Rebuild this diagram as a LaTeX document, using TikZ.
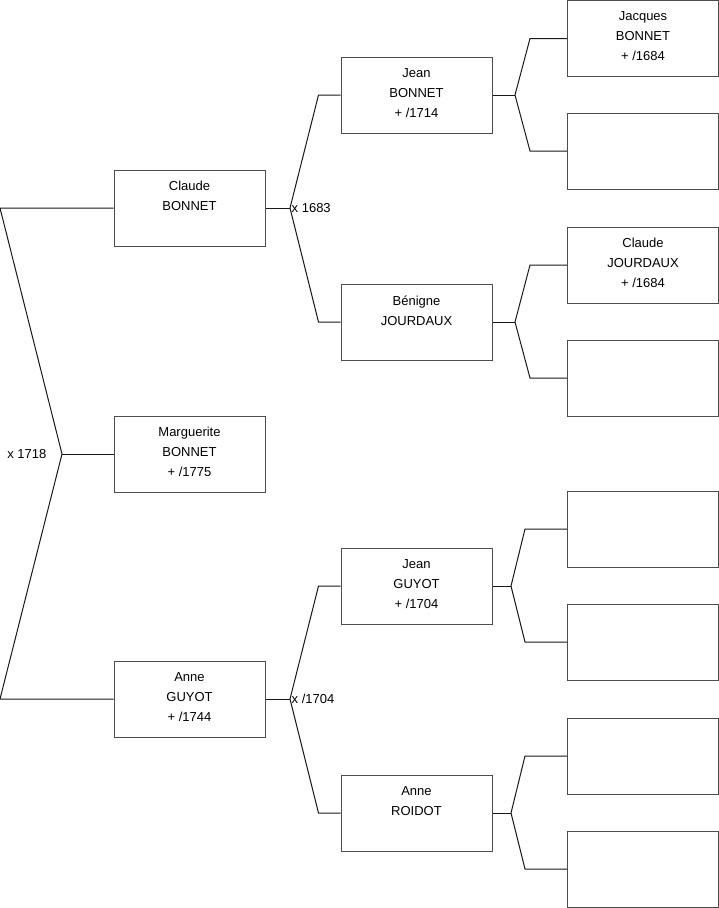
\documentclass[tikz,border=0pt]{standalone}
\usepackage{fontspec}
\setmainfont{Liberation Sans}

\begin{document}
\begin{tikzpicture}[x=1pt, y=-1pt,
  person/.style={draw=black!70, line width=1pt, fill=white, minimum width=151pt, minimum height=76pt, inner sep=0pt,
    font=\fontsize{13}{20}\selectfont,
    execute at begin node={\begin{minipage}[t][53pt][t]{148pt}\centering},
    execute at end node={\end{minipage}}},
  union/.style={font=\fontsize{13}{15}\selectfont, inner sep=1.5pt},
  link/.style={line width=1pt, black!90}
]
\useasboundingbox (0,0) rectangle (719,908);

% generation 1
\node[person] (claude) at (189.5,208) {Claude\\BONNET};
\node[person] (marguerite) at (189.5,454) {Marguerite\\BONNET\\+ /1775};
\node[person] (anne) at (189.5,699) {Anne\\GUYOT\\+ /1744};

% generation 2
\node[person] (jeanb) at (416.5,95) {Jean\\BONNET\\+ /1714};
\node[person] (benigne) at (416.5,322) {Bénigne\\JOURDAUX};
\node[person] (jeang) at (416.5,586) {Jean\\GUYOT\\+ /1704};
\node[person] (roidot) at (416.5,813) {Anne\\ROIDOT};

% generation 3
\node[person] (jacques) at (643,38.5) {Jacques\\BONNET\\+ /1684};
\node[person] (unk1) at (643,151) {};
\node[person] (claudej) at (643,265) {Claude\\JOURDAUX\\+ /1684};
\node[person] (unk2) at (643,378) {};
\node[person] (unk3) at (643,529) {};
\node[person] (unk4) at (643,642) {};
\node[person] (unk5) at (643,756) {};
\node[person] (unk6) at (643,869) {};

% junctions
\coordinate (u0) at (62,454);
\coordinate (u0a) at (0,208);
\coordinate (u0b) at (0,699);
\coordinate (u1) at (290,208);
\coordinate (u2) at (290,699);
\coordinate (u3) at (515,95);
\coordinate (u4) at (515,322);
\coordinate (u5) at (511,586);
\coordinate (u6) at (511,813);

% marriages
\node[union, anchor=east] (m0) at ([xshift=-14pt]u0) {x 1718};
\node[union, anchor=west] (m1) at (u1) {x 1683};
\node[union, anchor=west] (m2) at (u2) {x /1704};

% links
\draw[link] (claude.west) -- (u0a) -- (u0) -- (u0b) -- (anne.west);
\draw[link] (u0) -- (marguerite.west);

\draw[link] (claude.east) -- (u1);
\draw[link] (jeanb.west) -- ++(-22,0) -- (u1) -- ([xshift=-22pt]benigne.west) -- (benigne.west);
\draw[link] (anne.east) -- (u2);
\draw[link] (jeang.west) -- ++(-22,0) -- (u2) -- ([xshift=-22pt]roidot.west) -- (roidot.west);

\draw[link] (jeanb.east) -- (u3);
\draw[link] (jacques.west) -- ++(-37,0) -- (u3) -- ([xshift=-37pt]unk1.west) -- (unk1.west);
\draw[link] (benigne.east) -- (u4);
\draw[link] (claudej.west) -- ++(-37,0) -- (u4) -- ([xshift=-37pt]unk2.west) -- (unk2.west);
\draw[link] (jeang.east) -- (u5);
\draw[link] (unk3.west) -- ++(-42,0) -- (u5) -- ([xshift=-42pt]unk4.west) -- (unk4.west);
\draw[link] (roidot.east) -- (u6);
\draw[link] (unk5.west) -- ++(-42,0) -- (u6) -- ([xshift=-42pt]unk6.west) -- (unk6.west);

\end{tikzpicture}
\end{document}
